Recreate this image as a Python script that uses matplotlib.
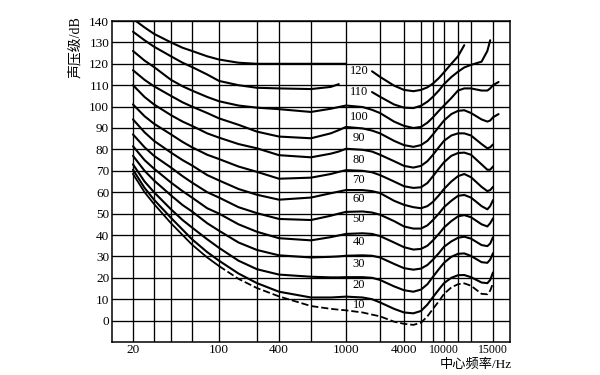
import numpy as np
import matplotlib
matplotlib.use("Agg")
import matplotlib.pyplot as plt

plt.rcParams['font.family'] = ['Liberation Serif', 'Noto Sans CJK SC']

N = np.nan

# ---------------- data ----------------
FREQ = [20, 25, 30, 40, 50, 60, 80, 100, 160, 250, 400, 600, 800, 900, 1000,
        1400, 1700, 2000, 3000, 4000, 5000, 6000, 7000, 8000, 9000, 10000,
        11000, 12000, 12700, 13500, 14200, 14600, 14800, 15000, 15400]

phon_120 = [141, 137, 134, 130, 127.5, 126, 123.5, 122, 120.5, 120, 120, 120, 120, 120, 120,
            N, 116.5, 113.9, 109.8, 107.8, 107.2, 107.8, 109, 110.8, 113.3, 116,
            120, 123.5, 128.7, N, N, N, N, N, N]
phon_110 = [135, 131, 128, 123.5, 120.5, 118.5, 115, 112, 110, 108.8, 108.5, 108.2, 109.2, 110.5, N,
            N, 106.8, 104.6, 101, 99.5, 99.3, 100.4, 102.3, 104.6, 107.5, 110.5,
            113.8, 116.3, 118.3, 119.5, 121, 126, 131, N, N]
phon_100 = [126, 121.5, 118.5, 112.5, 109.5, 107.5, 104.5, 102.5, 100.5, 99.5, 98.8, 97.5, 99, 99.8, 100.5,
            99.8, 98.5, 97, 93, 91, 90, 90.5, 92.5, 95, 98, 100.5,
            104, 107.5, 108.5, 108.5, 107.5, 107.5, 108.5, 110, 111.5]
phon_90 = [117, 112.5, 109.5, 105, 102, 100, 97, 94.5, 91.5, 88.3, 86, 85.2, 87.5, 89, 90.5,
           89.8, 88.8, 87.5, 84, 82, 81.2, 82, 84, 87, 90.5, 93.5,
           96.5, 98, 98.3, 97, 94, 93, 93.5, 95, 96.5]
phon_80 = [110, 104.5, 101, 96, 93, 91, 87.5, 85.5, 82.5, 80.5, 77.3, 76.3, 78, 79, 80.3,
           79.8, 79, 77.5, 74.5, 72.3, 71.5, 72.3, 74.5, 77.5, 81, 84,
           86.5, 87.5, 87.5, 86.5, 82.5, 80.5, 81, 82.3, N]
phon_70 = [101, 95.5, 92, 87, 83.5, 81, 77.5, 75.5, 72, 69.5, 66.3, 66.8, 68.5, 69.5, 70.3,
           70, 69.3, 68, 65, 62.8, 62, 62.3, 64.3, 67.5, 71, 74,
           77, 78.3, 78.5, 77.5, 73, 70.5, 70.5, 72, N]
phon_60 = [94, 88, 84, 78.5, 75, 72.5, 68, 65.5, 61.5, 58.8, 56.5, 57.5, 59.5, 60.3, 61,
           61, 60.5, 59.6, 56, 54.1, 53, 52.5, 53.5, 55.5, 58.5, 61.5,
           65, 67.5, 68.5, 67, 62.5, 60.5, 61, 62.5, N]
phon_50 = [87, 81, 77, 71.5, 67.5, 64.5, 60, 57.5, 53, 50.2, 47.5, 47, 49, 50, 50.8,
           51, 50.5, 49.5, 46.5, 44, 43, 43, 44.5, 47, 50, 53,
           56, 58.3, 58.7, 57.5, 53.5, 52, 53.5, 56.3, N]
phon_40 = [81.5, 75, 71, 64.5, 60.5, 57.5, 52.5, 50, 45, 41.5, 38.5, 37.5, 39, 39.8, 40.5,
           40.8, 40.5, 39.5, 36.5, 34.3, 33.2, 33.5, 35, 37.5, 40.5, 43.5,
           46.5, 48.7, 49.3, 48.3, 45, 44, 45.5, 47.8, N]
phon_30 = [77, 70, 65.5, 58.5, 54, 51, 45.5, 42, 36.5, 33, 30.5, 29.5, 29.8, 30, 30.3,
           30.5, 30.3, 29.5, 26.5, 24.5, 23.8, 24.3, 26, 28.5, 31.5, 34.5,
           37, 38.7, 39.2, 38.3, 35.3, 34.8, 36, 39, N]
phon_20 = [73, 65, 60, 52, 47, 43.5, 38, 34, 28, 24, 21.5, 20.5, 20.2, 20.2, 20.3,
           20.3, 20, 19, 16, 14.2, 13.5, 14.5, 17, 20.5, 24, 27,
           29.8, 31.2, 31.4, 30.2, 27.3, 27, 28.5, 31.5, N]
phon_10 = [70.5, 62, 56.5, 48, 42.5, 38, 32, 28, 22, 17.5, 13.5, 10.8, 10.8, 11, 11.2,
           10.8, 10, 8.5, 5.5, 3.8, 3.4, 4.5, 7.5, 11, 14.5, 17.5,
           20, 21.2, 21.3, 20.3, 17.8, 17.5, 19, 22.5, N]
threshold = [68.5, 60, 54.5, 45.5, 40, 35.5, 29.5, 25.5, 19.5, 15.2, 11.3, 6.8, 5.5, 5.1, 4.8,
             3.8, 2.8, 2, -0.5, -1.5, -2, -1, 2, 5.5, 9, 12.5,
             15.5, 17, 17.4, 16.3, 12.5, 12.3, 14, 17.5, N]

PHON_LABELS = ['120', '110', '100', '90', '80', '70', '60', '50', '40', '30', '20', '10']
LABEL_DB = [116.6, 106.8, 95.0, 85.2, 75.0, 65.6, 56.9, 47.5, 36.9, 26.6, 16.8, 7.2]
LABEL_FREQ = 1300

GRID_FREQ = [20, 30, 40, 60, 100, 250, 400, 600, 1000, 2000, 4000, 6000, 8000,
             10000, 12000, 13500, 15000]
TICK_FREQ = [20, 100, 400, 1000, 4000, 10000, 15000]
TICK_LABELS = ['20', '100', '400', '1000', '4000', '10000', '15000']
Y_TICKS = list(range(0, 141, 10))

# ---------------- non-uniform frequency axis (layout) ----------------
AXIS_F = [13.33, 20, 30, 40, 60, 100, 250, 400, 600, 1000, 2000, 4000, 6000,
          8000, 10000, 12000, 13500, 15000, 16260]
AXIS_POS = [112, 133, 154, 171, 192, 219, 257, 279, 311, 346, 380, 404, 421,
            433, 444, 458, 471, 493, 510]
LOGF = np.log10(AXIS_F)


def fwd(f):
    f = np.clip(np.asarray(f, dtype=float), 1e-3, None)
    return np.interp(np.log10(f), LOGF, AXIS_POS)


def inv(p):
    return 10 ** np.interp(np.asarray(p, dtype=float), AXIS_POS, LOGF)


fig = plt.figure(figsize=(6, 3.75), dpi=100)
ax = fig.add_axes([112 / 600, 1 - 342 / 375, (510 - 112) / 600, (342 - 21) / 375])
ax.set_xscale('function', functions=(fwd, inv))
ax.set_xlim(AXIS_F[0], AXIS_F[-1])
ax.set_ylim(-10, 140)

# grid
for f in GRID_FREQ:
    ax.axvline(f, color='black', lw=0.95, zorder=1)
for y in Y_TICKS:
    ax.axhline(y, color='black', lw=0.95, zorder=1)

# curves
solid = [phon_120, phon_110, phon_100, phon_90, phon_80, phon_70,
         phon_60, phon_50, phon_40, phon_30, phon_20, phon_10]
F = np.array(FREQ, dtype=float)
for c in solid:
    ax.plot(F, c, color='black', lw=1.5, solid_joinstyle='round',
            solid_capstyle='round', zorder=3)
th = np.array(threshold, dtype=float)
k = FREQ.index(100)
ax.plot(F[:k + 1], th[:k + 1], color='black', lw=1.3, zorder=3)
ax.plot(F[k:], th[k:], color='black', lw=1.3, ls=(0, (4, 1.6)), zorder=3)

for lab, y in zip(PHON_LABELS, LABEL_DB):
    ax.text(LABEL_FREQ, y, lab, ha='center', va='center', fontsize=9,
            color='black', zorder=4)

ax.set_xticks(TICK_FREQ)
ax.set_xticklabels(TICK_LABELS)
ax.set_yticks(Y_TICKS)
ax.set_yticklabels([str(v) for v in Y_TICKS])
ax.tick_params(axis='both', length=0, labelsize=9.5, colors='black')
ax.tick_params(axis='y', pad=2)
ax.tick_params(axis='x', pad=1.5)
for t in ax.get_xticklabels():
    if len(t.get_text()) == 5:
        t.set_fontsize(8.5)
for s in ax.spines.values():
    s.set_linewidth(1.1)
    s.set_color('black')

fig.text(75 / 600, 1 - 47 / 375, '声压级/dB', rotation=90, ha='center',
         va='center', fontsize=10)
fig.text(512 / 600, 1 - 365 / 375, '中心频率/Hz', ha='right', va='center',
         fontsize=9.5)

fig.savefig('out.png', dpi=100)
